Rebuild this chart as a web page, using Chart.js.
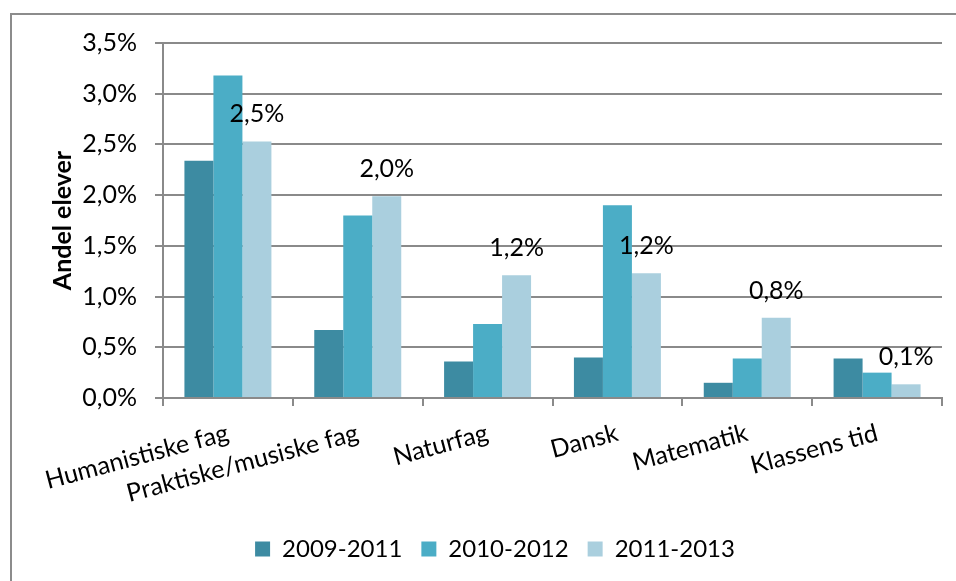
<!DOCTYPE html>
<html lang="da">
<head>
  <meta charset="UTF-8" />
  <title>Andel elever</title>
  <script src="https://cdn.jsdelivr.net/npm/chart.js"></script>
  <style>
    body {
      margin: 0;
      background: #fff;
      overflow: hidden;
    }
    #wrap {
      position: relative;
      width: 956px;
      height: 581px;
    }
    #frame {
      position: absolute;
      left: 10px;
      top: 13px;
      width: 1000px;
      height: 1000px;
      border: 2px solid #8c8c8c;
    }
    #chart {
      position: absolute;
      left: 0;
      top: 0;
    }
  </style>
</head>
<body>
  <div id="wrap">
    <div id="frame"></div>
    <canvas id="chart" width="956" height="581"></canvas>
  </div>

  <script>
    // data (percent)
    const categories = ['Humanistiske fag', 'Praktiske/musiske fag', 'Naturfag', 'Dansk', 'Matematik', 'Klassens tid'];
    const series2009 = [2.34, 0.67, 0.36, 0.40, 0.15, 0.39];
    const series2010 = [3.18, 1.80, 0.73, 1.90, 0.39, 0.25];
    const series2011 = [2.53, 1.99, 1.21, 1.23, 0.79, 0.135];
    const seriesNames = ['2009-2011', '2010-2012', '2011-2013'];
    const colors = ['#3d8ba2', '#4badc6', '#aacfde'];

    const FONT = 'Lato, "Open Sans", sans-serif';
    const gridColor = '#8a8a8a';

    const pct = v => v.toFixed(1).replace('.', ',') + '%';

    // labels over the last series only
    const valueLabels = {
      id: 'valueLabels',
      afterDatasetsDraw(chart) {
        const ctx = chart.ctx;
        const meta = chart.getDatasetMeta(2);
        ctx.save();
        ctx.font = '25px ' + FONT;
        ctx.fillStyle = '#000';
        ctx.textAlign = 'center';
        ctx.textBaseline = 'middle';
        meta.data.forEach((bar, i) => {
          ctx.fillText(pct(series2011[i]), bar.x, bar.y - 27);
        });
        ctx.restore();
      }
    };

    // legend sits a bit right of centre in the original
    const legendShift = {
      id: 'legendShift',
      afterLayout(chart) {
        chart.legend.left += 24;
        chart.legend.right += 24;
      }
    };

    new Chart(document.getElementById('chart'), {
      type: 'bar',
      data: {
        labels: categories,
        datasets: [
          { label: seriesNames[0], data: series2009, backgroundColor: colors[0] },
          { label: seriesNames[1], data: series2010, backgroundColor: colors[1] },
          { label: seriesNames[2], data: series2011, backgroundColor: colors[2] }
        ]
      },
      options: {
        responsive: false,
        animation: false,
        layout: { padding: { left: 0, right: 14, top: 43, bottom: 10 } },
        datasets: { bar: { categoryPercentage: 0.67, barPercentage: 1.0 } },
        plugins: {
          legend: {
            position: 'bottom',
            labels: {
              boxWidth: 15,
              boxHeight: 15,
              padding: 19,
              color: '#000',
              font: { family: FONT, size: 24 }
            }
          },
          tooltip: { enabled: false }
        },
        scales: {
          x: {
            afterFit: s => { s.height = 120; },
            grid: {
              drawOnChartArea: false,
              drawTicks: true,
              tickLength: 8,
              color: gridColor,
              lineWidth: 2,
              offset: true
            },
            border: { display: true, color: gridColor, width: 2 },
            ticks: {
              minRotation: 15,
              maxRotation: 15,
              padding: 12,
              color: '#000',
              font: { family: FONT, size: 25 }
            }
          },
          y: {
            min: 0,
            max: 3.5,
            afterFit: s => { s.width = 163; },
            grid: {
              color: gridColor,
              lineWidth: 2,
              tickLength: 8
            },
            border: { display: true, color: gridColor, width: 2 },
            ticks: {
              stepSize: 0.5,
              padding: 18,
              color: '#000',
              font: { family: FONT, size: 25 },
              callback: v => pct(v)
            },
            title: {
              display: true,
              text: 'Andel elever',
              color: '#000',
              padding: { top: 48, bottom: 0 },
              font: { family: FONT, size: 25, weight: 'bold' }
            }
          }
        }
      },
      plugins: [valueLabels, legendShift]
    });
  </script>
</body>
</html>
